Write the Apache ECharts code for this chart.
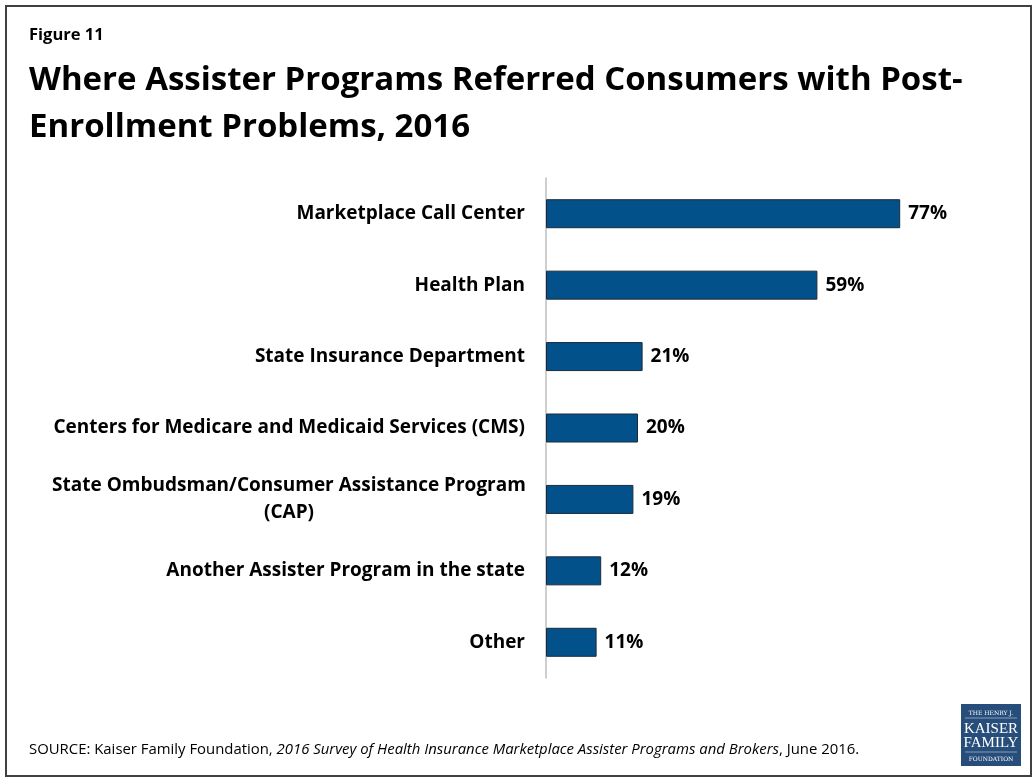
<!DOCTYPE html>
<html>
<head>
<meta charset="utf-8">
<script src="https://cdn.jsdelivr.net/npm/echarts@6/dist/echarts.min.js"></script>
<style>
  html, body { margin: 0; padding: 0; background: #ffffff; }
  #chart { width: 1034px; height: 783px; }
</style>
</head>
<body>
<div id="chart"></div>
<script>
// Referral destinations, listed top to bottom
const categories = [
  'Marketplace Call Center',
  'Health Plan',
  'State Insurance Department',
  'Centers for Medicare and Medicaid Services (CMS)',
  'State Ombudsman/Consumer Assistance Program\n(CAP)',
  'Another Assister Program in the state',
  'Other'
];
// Share of assister programs (%)
const values = [77, 59, 21, 20, 19, 12, 11];

const FONT = '"Open Sans", Lato, sans-serif';
const BAR = '#03518A';

const chart = echarts.init(document.getElementById('chart'), null, { renderer: 'canvas' });

chart.setOption({
  backgroundColor: '#ffffff',
  animation: false,
  title: [
    {
      text: 'Figure 11',
      left: 29, top: 27, padding: 0,
      textStyle: { fontFamily: FONT, fontWeight: 'bold', fontSize: 16.5, color: '#000' }
    },
    {
      text: 'Where Assister Programs Referred Consumers with Post-\nEnrollment Problems, 2016',
      left: 29, top: 57, padding: 0,
      textStyle: { fontFamily: FONT, fontWeight: 'bold', fontSize: 33, lineHeight: 47, color: '#000' }
    },
    {
      text: '{n|SOURCE: Kaiser Family Foundation, }{i|2016 Survey of Health Insurance Marketplace Assister Programs and Brokers}{n|, June 2016.}',
      left: 29, top: 742, padding: 0,
      textStyle: {
        rich: {
          n: { fontFamily: FONT, fontWeight: 'normal', fontSize: 14.9, color: '#000' },
          i: { fontFamily: FONT, fontWeight: 'normal', fontSize: 14.9, fontStyle: 'italic', color: '#000' }
        }
      }
    }
  ],
  grid: { left: 546, top: 178, width: 460, height: 500, containLabel: false },
  xAxis: {
    type: 'value', min: 0, max: 100,
    show: false
  },
  yAxis: {
    type: 'category',
    data: categories,
    inverse: true,
    axisLine: { show: true, lineStyle: { color: '#BFBFBF', width: 1.5 } },
    axisTick: { show: false },
    axisLabel: {
      margin: 21,
      align: 'right',
      formatter: function (v) {
        if (v.indexOf('\n') >= 0) {
          const parts = v.split('\n');
          return '{m|' + parts[0] + '}\n{m|' + parts[1] + '}';
        }
        return '{c|' + v + '}';
      },
      rich: {
        c: { fontFamily: FONT, fontWeight: 'bold', fontSize: 19, color: '#000', lineHeight: 27 },
        m: { fontFamily: FONT, fontWeight: 'bold', fontSize: 19, color: '#000', lineHeight: 27, width: 472, align: 'center' }
      }
    }
  },
  series: [{
    type: 'bar',
    data: values,
    barWidth: 29,
    itemStyle: { color: BAR, borderColor: '#1B2A3A', borderWidth: 1 },
    label: {
      show: true,
      position: 'right',
      distance: 8,
      formatter: '{c}%',
      fontFamily: FONT, fontWeight: 'bold', fontSize: 19, color: '#000'
    }
  }],
  graphic: [
    // outer frame
    {
      type: 'rect', shape: { x: 6, y: 6, width: 1025, height: 770 },
      style: { fill: 'none', stroke: '#404040', lineWidth: 2 }, silent: true
    },
    // foundation logo
    {
      type: 'group', left: 961, top: 704,
      children: [
        { type: 'rect', shape: { x: 0, y: 0, width: 60, height: 62 }, style: { fill: '#274D7A' } },
        { type: 'text', x: 30, y: 9, style: { text: 'THE HENRY J.', fill: '#ffffff', font: '6px "DejaVu Serif", serif', align: 'center', verticalAlign: 'middle' } },
        { type: 'line', shape: { x1: 4, y1: 14, x2: 56, y2: 14 }, style: { stroke: '#9FB3CC', lineWidth: 0.8 } },
        { type: 'text', x: 30, y: 25, style: { text: 'KAISER', fill: '#ffffff', font: '15px "Liberation Serif", serif', align: 'center', verticalAlign: 'middle' } },
        { type: 'text', x: 30, y: 39, style: { text: 'FAMILY', fill: '#ffffff', font: '15px "Liberation Serif", serif', align: 'center', verticalAlign: 'middle' } },
        { type: 'line', shape: { x1: 4, y1: 48, x2: 56, y2: 48 }, style: { stroke: '#9FB3CC', lineWidth: 0.8 } },
        { type: 'text', x: 30, y: 55, style: { text: 'FOUNDATION', fill: '#ffffff', font: '6px "DejaVu Serif", serif', align: 'center', verticalAlign: 'middle' } }
      ]
    }
  ]
});
</script>
</body>
</html>
